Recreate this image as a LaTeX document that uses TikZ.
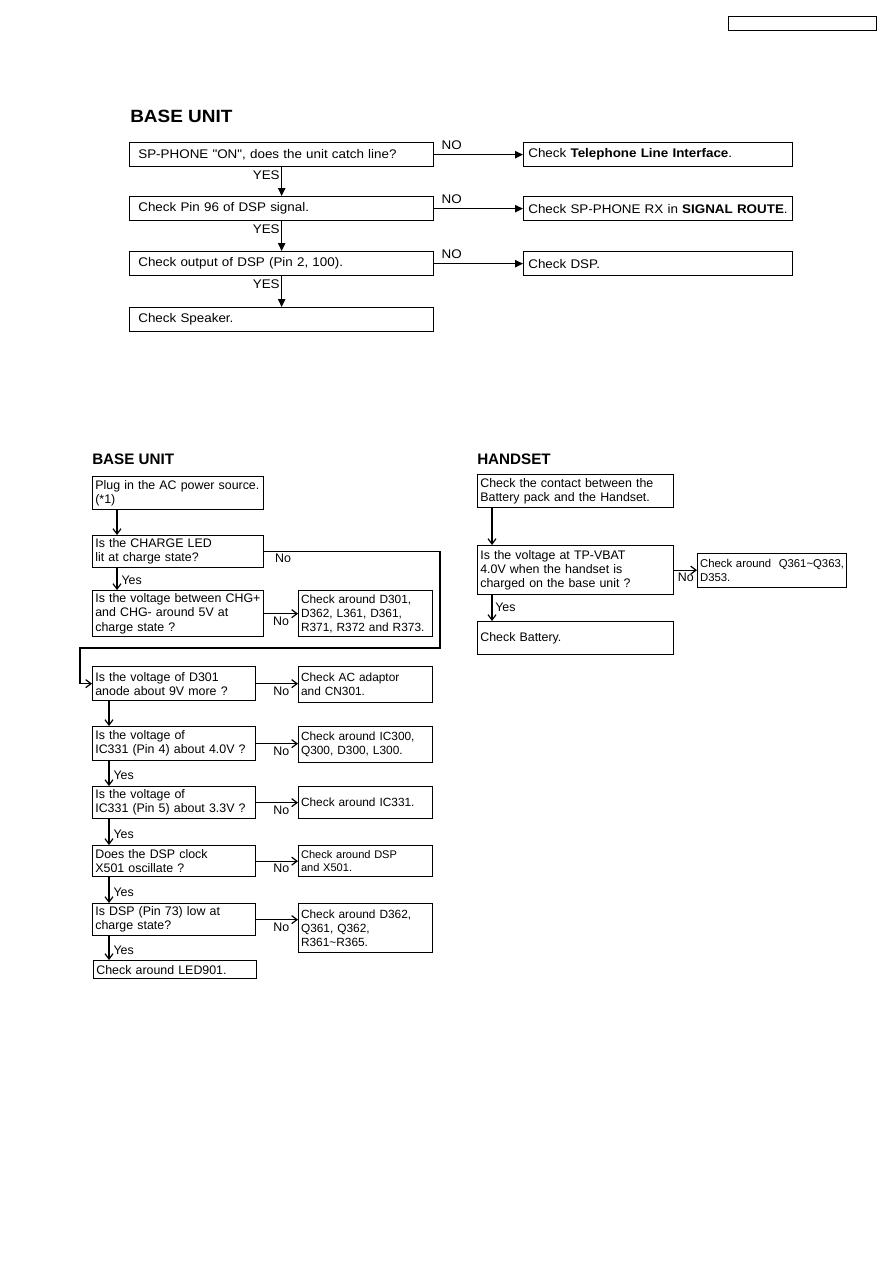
\documentclass[tikz,border=0pt]{standalone}
\usepackage{fontspec}
\setmainfont{Liberation Sans}
\newfontfamily\wideface{Liberation Sans}[FakeStretch=1.07]
\usetikzlibrary{arrows.meta}

\begin{document}
\begin{tikzpicture}[
  x=0.75pt, y=-0.75pt,
  box/.style={rectangle, draw, line width=1pt, anchor=north west, align=left,
              inner xsep=2pt, inner ysep=0pt, font=\fontsize{9.3}{10.6}\selectfont},
  chk/.style={box, inner xsep=1.8pt, font=\fontsize{8.9}{10.6}\selectfont},
  wbox/.style={box, inner xsep=6.5pt, minimum height=18pt,
               font=\wideface\fontsize{9.4}{10}\selectfont},
  head/.style={anchor=west, inner sep=0pt, font=\bfseries\fontsize{11.4}{13}\selectfont},
  lbl/.style={inner sep=1pt, font=\fontsize{9.3}{10}\selectfont},
  wlbl/.style={inner sep=1pt, font=\wideface\fontsize{9.4}{10}\selectfont},
  arr/.style={-{Triangle[length=6pt, width=5.5pt]}, line width=1pt},
  barb/.style={-{Straight Barb[length=4pt, width=6pt]}, line width=0.9pt}
]
  \useasboundingbox (0,0) rectangle (893,1263);

  % page number frame
  \node[draw, line width=0.9pt, anchor=north west, minimum width=111pt,
        minimum height=10.5pt, inner sep=0pt] (docno) at (728,16) {};

  % speakerphone check
  \node[head, font=\wideface\bfseries\fontsize{13.3}{15}\selectfont] (spttl) at (130,116) {BASE UNIT};
  \node[wbox, text width=215pt] (sp1) at (129,142) {SP-PHONE "ON", does the unit catch line?};
  \node[wbox, text width=215pt] (sp2) at (129,196) {Check Pin 96 of DSP signal.};
  \node[wbox, text width=215pt] (sp3) at (129,251) {Check output of DSP (Pin 2, 100).};
  \node[wbox, text width=215pt] (sp4) at (129,307) {Check Speaker.};
  \node[wbox, inner xsep=3.5pt, text width=194.75pt] (spr1) at (523,142) {Check \textbf{Telephone Line Interface}.};
  \node[wbox, inner xsep=3.5pt, text width=194.75pt] (spr2) at (523,196) {Check SP-PHONE RX in \textbf{SIGNAL ROUTE}.};
  \node[wbox, inner xsep=3.5pt, text width=194.75pt] (spr3) at (523,251) {Check DSP.};

  \draw[arr] (sp1) -- (spr1) node[wlbl, pos=0, anchor=south west, xshift=4pt, yshift=2pt] {NO};
  \draw[arr] (sp2) -- (spr2) node[wlbl, pos=0, anchor=south west, xshift=4pt, yshift=2pt] {NO};
  \draw[arr] (sp3) -- (spr3) node[wlbl, pos=0, anchor=south west, xshift=4pt, yshift=2pt] {NO};
  \draw[arr] (sp1) -- (sp2) node[wlbl, pos=0, anchor=north east, yshift=-1pt] {YES};
  \draw[arr] (sp2) -- (sp3) node[wlbl, pos=0, anchor=north east, yshift=-1pt] {YES};
  \draw[arr] (sp3) -- (sp4) node[wlbl, pos=0, anchor=north east, yshift=-1pt] {YES};

  % charging, base unit
  \node[head] (bttl) at (92,459) {BASE UNIT};
  \node[box, text width=124.25pt, minimum height=24.75pt] (b1) at (92,476) {Plug in the AC power source.\\(*1)};
  \node[box, text width=124.25pt, minimum height=24pt] (b2) at (92,535) {Is the CHARGE LED\\lit at charge state?};
  \node[box, text width=124.25pt, minimum height=34.5pt] (b3) at (92,590) {Is the voltage between CHG+\\and CHG- around 5V at\\charge state ?};
  \node[chk, text width=96.9pt, minimum height=34.5pt] (c3) at (298,590) {Check around D301,\\D362, L361, D361,\\R371, R372 and R373.};
  \node[box, text width=118.25pt, minimum height=25.5pt] (b4) at (92,666) {Is the voltage of D301\\anode about 9V more ?};
  \node[chk, text width=96.9pt, minimum height=27pt] (c4) at (298,666) {Check AC adaptor\\and CN301.};
  \node[box, text width=118.25pt, minimum height=25.5pt] (b5) at (92,726) {Is the voltage of\\IC331 (Pin 4) about 4.0V ?};
  \node[chk, text width=96.9pt, minimum height=27pt] (c5) at (298,726) {Check around IC300,\\Q300, D300, L300.};
  \node[box, text width=118.25pt, minimum height=24pt] (b6) at (92,786) {Is the voltage of\\IC331 (Pin 5) about 3.3V ?};
  \node[chk, text width=96.9pt, minimum height=24pt] (c6) at (298,786) {Check around IC331.};
  \node[box, text width=118.25pt, minimum height=23.25pt] (b7) at (92,845) {Does the DSP clock\\X501 oscillate ?};
  \node[chk, text width=96.9pt, minimum height=23.25pt, font=\fontsize{8.3}{10.2}\selectfont] (c7) at (298,845) {Check around DSP\\and X501.};
  \node[box, text width=118.25pt, minimum height=24pt] (b8) at (92,903) {Is DSP (Pin 73) low at\\charge state?};
  \node[chk, text width=96.9pt, minimum height=36.75pt] (c8) at (298,903) {Check around D362,\\Q361, Q362,\\R361\textasciitilde R365.};
  \node[box, text width=118.25pt, minimum height=13.5pt] (b9) at (93,960) {Check around LED901.};

  \draw[barb] ([xshift=18.75pt]b1.south west) -- ([xshift=18.75pt]b2.north west);
  \draw[barb] ([xshift=18.75pt]b2.south west) -- ([xshift=18.75pt]b3.north west)
    node[lbl, pos=0.55, anchor=west, xshift=2pt] {Yes};
  \coordinate (loopne) at (440,648);
  \coordinate (loopsw) at (80,648);
  \draw[barb] (b2.east) -- (b2.east -| loopne) node[lbl, pos=0.05, anchor=north west] {No}
    -- (loopne) -- (loopsw) |- (b4.west);
  \draw[barb] (b3.east) -- (b3.east -| c3.west) node[lbl, midway, anchor=north, yshift=-1pt] {No};
  \draw[barb] (b4.east) -- (b4.east -| c4.west) node[lbl, pos=0.6, anchor=north, yshift=-1pt] {No};
  \draw[barb] (b5.east) -- (b5.east -| c5.west) node[lbl, pos=0.6, anchor=north, yshift=-1pt] {No};
  \draw[barb] (b6.east) -- (b6.east -| c6.west) node[lbl, pos=0.6, anchor=north, yshift=-1pt] {No};
  \draw[barb] (b7.east) -- (b7.east -| c7.west) node[lbl, pos=0.6, anchor=north, yshift=-1pt] {No};
  \draw[barb] (b8.east) -- (b8.east -| c8.west) node[lbl, pos=0.6, anchor=north, yshift=-1pt] {No};
  \draw[barb] ([xshift=12.75pt]b4.south west) -- ([xshift=12.75pt]b5.north west);
  \draw[barb] ([xshift=12.75pt]b5.south west) -- ([xshift=12.75pt]b6.north west)
    node[lbl, pos=0.58, anchor=west, xshift=2pt] {Yes};
  \draw[barb] ([xshift=12.75pt]b6.south west) -- ([xshift=12.75pt]b7.north west)
    node[lbl, pos=0.58, anchor=west, xshift=2pt] {Yes};
  \draw[barb] ([xshift=12.75pt]b7.south west) -- ([xshift=12.75pt]b8.north west)
    node[lbl, pos=0.58, anchor=west, xshift=2pt] {Yes};
  \draw[barb] ([xshift=12.75pt]b8.south west) -- ([xshift=12pt]b9.north west)
    node[lbl, pos=0.58, anchor=west, xshift=2pt] {Yes};

  % handset
  \node[head] (httl) at (477,459) {HANDSET};
  \node[box, text width=143pt, minimum height=24.75pt] (h1) at (477,474) {Check the contact between the\\Battery pack and the Handset.};
  \node[box, text width=143pt, minimum height=36.75pt] (h2) at (477,545) {Is the voltage at TP-VBAT\\4.0V when the handset is\\charged on the base unit ?};
  \node[chk, text width=108pt, minimum height=25.5pt, font=\fontsize{8.5}{10.2}\selectfont] (hc) at (697,553) {Check around\ \ Q361\textasciitilde Q363,\\D353.};
  \node[box, text width=143pt, minimum height=24.75pt] (h3) at (477,621) {Check Battery.};

  \draw[barb] ([xshift=11.25pt]h1.south west) -- ([xshift=11.25pt]h2.north west);
  \draw[barb] (h2.east) -- (h2.east -| hc.west) node[lbl, pos=1, anchor=north east, xshift=-1pt, yshift=-1pt] {No};
  \draw[barb] ([xshift=11.25pt]h2.south west) -- ([xshift=11.25pt]h3.north west)
    node[lbl, pos=0.45, anchor=west, xshift=1pt] {Yes};
\end{tikzpicture}
\end{document}
